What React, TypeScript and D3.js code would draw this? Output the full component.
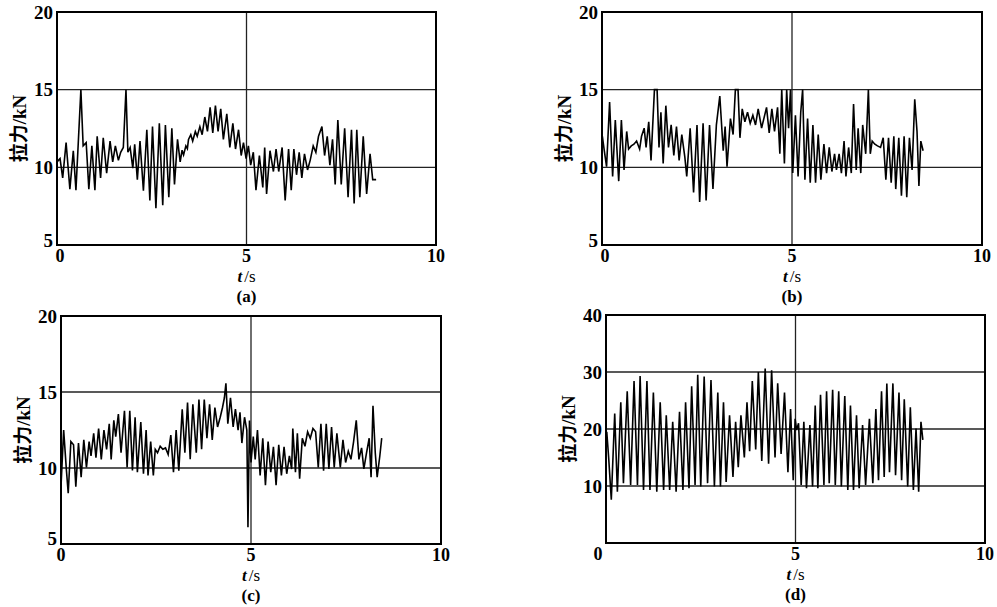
import React from 'react'
import * as d3 from 'd3'

// time (s), pull force (kN) — peaks and troughs
const seriesA: [number, number][] = [
  [0.00, 10.35], [0.08, 10.56], [0.15, 9.32], [0.24, 11.59], [0.34, 8.60], [0.43, 11.07], [0.50, 8.53],
  [0.63, 15.0], [0.69, 11.38], [0.77, 11.59], [0.84, 8.60], [0.92, 11.38], [1.00, 8.53], [1.06, 12.0],
  [1.15, 9.32], [1.22, 11.9], [1.31, 9.63], [1.40, 11.69], [1.47, 10.35], [1.54, 11.38], [1.62, 10.45],
  [1.68, 10.97], [1.75, 11.28], [1.82, 15.0], [1.87, 10.97], [1.93, 11.28], [2.00, 9.94], [2.05, 11.48],
  [2.12, 9.21], [2.19, 11.69], [2.28, 8.49], [2.37, 12.42], [2.45, 7.87], [2.52, 12.62], [2.61, 7.36],
  [2.70, 12.83], [2.79, 7.56], [2.86, 12.73], [2.95, 8.08], [3.03, 12.52], [3.10, 8.90], [3.18, 11.80],
  [3.25, 10.35], [3.30, 11.10], [3.34, 10.80], [3.40, 11.38], [3.44, 11.20], [3.47, 11.80], [3.53, 12.10],
  [3.58, 11.69], [3.65, 12.31], [3.70, 12.0], [3.77, 12.62], [3.83, 12.10], [3.90, 13.24], [3.97, 12.31],
  [4.04, 13.86], [4.11, 12.21], [4.18, 13.97], [4.25, 12.31], [4.32, 13.76], [4.39, 11.80], [4.48, 13.45],
  [4.56, 11.28], [4.64, 12.83], [4.71, 11.18], [4.79, 12.42], [4.86, 10.76], [4.92, 11.59], [4.99, 10.56],
  [5.05, 11.38], [5.11, 10.14], [5.18, 10.97], [5.25, 8.53], [5.34, 10.76], [5.43, 8.70], [5.48, 11.28],
  [5.53, 8.29], [5.62, 11.07], [5.71, 9.73], [5.78, 11.18], [5.85, 9.73], [5.94, 11.28], [6.02, 7.87],
  [6.11, 11.18], [6.18, 8.53], [6.25, 11.18], [6.32, 9.52], [6.39, 10.97], [6.46, 9.32], [6.53, 10.87],
  [6.61, 9.83], [6.68, 10.45], [6.76, 11.38], [6.83, 10.97], [6.90, 12.0], [6.99, 12.62], [7.06, 10.76],
  [7.13, 12.0], [7.20, 10.14], [7.27, 11.80], [7.34, 8.90], [7.41, 13.04], [7.50, 8.90], [7.59, 12.52],
  [7.68, 8.08], [7.77, 12.42], [7.84, 7.67], [7.91, 12.42], [7.99, 8.08], [8.08, 12.0], [8.17, 8.29],
  [8.26, 10.87], [8.33, 9.21], [8.42, 9.21],
]

const seriesB: [number, number][] = [
  [0.01, 12.0], [0.06, 11.07], [0.12, 10.04], [0.20, 14.21], [0.28, 9.42], [0.35, 13.04], [0.44, 9.11],
  [0.51, 13.04], [0.58, 9.83], [0.65, 12.31], [0.70, 11.18], [0.77, 11.38], [0.84, 11.49], [0.91, 11.69],
  [0.99, 11.18], [1.04, 12.0], [1.11, 12.52], [1.16, 11.28], [1.23, 12.93], [1.29, 10.45], [1.38, 15.0],
  [1.45, 15.0], [1.50, 11.28], [1.55, 13.55], [1.61, 10.25], [1.68, 13.97], [1.75, 11.28], [1.82, 12.73],
  [1.89, 10.76], [1.96, 12.62], [2.03, 10.45], [2.10, 12.11], [2.18, 10.66], [2.23, 9.42], [2.32, 12.52],
  [2.41, 8.39], [2.50, 12.73], [2.57, 7.77], [2.66, 12.83], [2.74, 7.87], [2.83, 12.73], [2.92, 8.60],
  [3.01, 12.73], [3.10, 14.59], [3.19, 11.07], [3.24, 12.62], [3.29, 10.04], [3.38, 13.14], [3.45, 12.11],
  [3.51, 15.0], [3.58, 15.0], [3.63, 11.90], [3.69, 13.76], [3.76, 12.93], [3.83, 13.55], [3.90, 12.83],
  [3.97, 13.35], [4.04, 12.73], [4.11, 13.76], [4.20, 12.52], [4.33, 13.86], [4.40, 12.21], [4.47, 13.76],
  [4.54, 12.31], [4.62, 13.86], [4.68, 10.87], [4.73, 15.0], [4.80, 10.25], [4.86, 15.0], [4.91, 12.52],
  [4.96, 15.0], [5.02, 9.63], [5.09, 13.35], [5.16, 9.42], [5.23, 13.55], [5.28, 15.0], [5.34, 9.21],
  [5.41, 13.14], [5.48, 9.01], [5.55, 12.73], [5.62, 9.01], [5.69, 12.11], [5.76, 9.21], [5.84, 11.49],
  [5.91, 9.63], [5.98, 11.28], [6.05, 9.73], [6.12, 10.87], [6.17, 9.83], [6.24, 10.87], [6.30, 9.63],
  [6.37, 11.69], [6.42, 9.42], [6.49, 11.28], [6.56, 9.63], [6.62, 14.07], [6.69, 9.83], [6.74, 12.52],
  [6.81, 9.63], [6.86, 12.73], [6.94, 10.87], [7.01, 15.0], [7.06, 10.87], [7.11, 11.69], [7.18, 11.49],
  [7.25, 11.38], [7.33, 11.28], [7.40, 11.90], [7.47, 9.21], [7.54, 11.90], [7.61, 9.01], [7.68, 12.0],
  [7.73, 8.60], [7.81, 11.90], [7.88, 8.18], [7.95, 12.0], [8.02, 8.08], [8.09, 11.90], [8.16, 9.83],
  [8.23, 14.38], [8.29, 12.31], [8.34, 8.80], [8.39, 11.69], [8.45, 11.07],
]

const seriesC: [number, number][] = [
  [0.00, 8.77], [0.07, 12.49], [0.14, 9.94], [0.19, 8.34], [0.26, 11.74], [0.33, 11.53], [0.39, 8.77],
  [0.46, 11.64], [0.53, 9.40], [0.60, 11.85], [0.67, 10.04], [0.74, 11.74], [0.79, 10.79], [0.86, 12.28],
  [0.92, 10.68], [0.99, 12.60], [1.06, 10.57], [1.13, 12.49], [1.20, 11.23], [1.27, 12.91], [1.32, 10.57],
  [1.39, 13.13], [1.44, 12.06], [1.51, 13.55], [1.58, 11.0], [1.67, 13.77], [1.74, 10.04], [1.81, 13.77],
  [1.88, 9.83], [1.95, 13.34], [2.01, 9.72], [2.10, 13.02], [2.17, 9.62], [2.24, 12.49], [2.29, 9.51],
  [2.36, 11.74], [2.43, 9.51], [2.48, 11.23], [2.54, 11.0], [2.61, 11.43], [2.68, 11.23], [2.75, 11.32],
  [2.82, 10.89], [2.89, 12.17], [2.96, 9.72], [3.03, 12.49], [3.10, 9.83], [3.19, 13.87], [3.26, 11.0],
  [3.33, 14.30], [3.40, 10.57], [3.47, 14.19], [3.56, 11.0], [3.63, 14.51], [3.70, 11.23], [3.77, 14.51],
  [3.84, 11.96], [3.91, 14.19], [3.98, 11.85], [4.05, 13.98], [4.12, 12.70], [4.19, 13.34], [4.25, 13.98],
  [4.30, 14.62], [4.34, 15.57], [4.39, 12.91], [4.46, 14.62], [4.53, 12.70], [4.59, 13.87], [4.66, 12.49],
  [4.71, 13.66], [4.76, 11.64], [4.83, 13.34], [4.89, 12.49], [4.92, 6.10], [4.96, 13.13], [5.00, 10.36],
  [5.06, 12.06], [5.11, 10.57], [5.17, 12.49], [5.24, 9.51], [5.31, 11.96], [5.38, 8.87], [5.45, 11.74],
  [5.52, 9.72], [5.59, 11.40], [5.66, 8.87], [5.73, 11.53], [5.80, 9.51], [5.87, 11.40], [5.94, 9.62],
  [6.01, 10.79], [6.07, 9.93], [6.10, 12.60], [6.17, 9.72], [6.22, 12.28], [6.28, 9.30], [6.35, 11.96],
  [6.42, 11.43], [6.49, 12.38], [6.56, 11.96], [6.63, 12.60], [6.70, 12.38], [6.77, 10.04], [6.84, 12.91],
  [6.91, 9.83], [6.98, 12.91], [7.05, 9.94], [7.12, 12.70], [7.19, 10.04], [7.26, 12.28], [7.35, 10.04],
  [7.42, 11.85], [7.49, 10.36], [7.56, 11.11], [7.63, 10.57], [7.70, 11.74], [7.77, 13.13], [7.84, 10.57],
  [7.91, 11.32], [7.97, 9.94], [8.04, 11.0], [8.11, 11.96], [8.16, 9.40], [8.21, 14.09], [8.27, 11.0],
  [8.32, 9.40], [8.39, 10.79], [8.44, 11.96],
]

const seriesD: [number, number][] = [
  [0.02, 19.5], [0.07, 15.0], [0.14, 7.6], [0.23, 22.7], [0.30, 9.0], [0.39, 24.7], [0.46, 10.5],
  [0.56, 26.6], [0.65, 10.2], [0.74, 28.4], [0.83, 10.2], [0.90, 29.3], [0.99, 9.3], [1.08, 28.4],
  [1.16, 9.3], [1.25, 26.4], [1.34, 9.0], [1.43, 24.7], [1.52, 9.3], [1.59, 22.4], [1.68, 9.3],
  [1.76, 21.25], [1.85, 9.0], [1.94, 23.0], [2.03, 9.3], [2.10, 24.7], [2.19, 9.6], [2.26, 27.5],
  [2.35, 10.2], [2.42, 29.5], [2.50, 9.9], [2.59, 29.2], [2.68, 10.5], [2.77, 28.6], [2.86, 9.9],
  [2.95, 26.4], [3.02, 9.9], [3.10, 24.7], [3.17, 10.7], [3.26, 22.4], [3.35, 11.6], [3.42, 21.25],
  [3.49, 13.3], [3.56, 22.4], [3.65, 15.0], [3.72, 24.7], [3.79, 16.1], [3.86, 28.4], [3.95, 16.4],
  [4.02, 30.0], [4.11, 14.4], [4.20, 30.6], [4.29, 13.9], [4.37, 30.3], [4.46, 15.0], [4.53, 28.0],
  [4.62, 15.6], [4.71, 26.4], [4.80, 12.4], [4.87, 23.5], [4.94, 11.0], [4.99, 21.8], [5.03, 19.8],
  [5.08, 21.0], [5.15, 10.2], [5.22, 21.25], [5.29, 9.6], [5.38, 20.7], [5.45, 9.9], [5.52, 24.1],
  [5.59, 9.6], [5.66, 26.0], [5.75, 10.2], [5.82, 26.6], [5.89, 10.5], [5.98, 26.9], [6.05, 10.2],
  [6.14, 26.6], [6.21, 9.9], [6.30, 25.8], [6.38, 9.3], [6.45, 24.1], [6.53, 9.3], [6.61, 22.4],
  [6.68, 9.6], [6.77, 20.7], [6.85, 10.2], [6.95, 21.8], [7.04, 10.5], [7.12, 23.5], [7.19, 11.0],
  [7.27, 26.6], [7.34, 11.6], [7.41, 28.0], [7.48, 12.4], [7.57, 28.0], [7.64, 11.9], [7.73, 26.4],
  [7.80, 11.0], [7.87, 25.2], [7.96, 9.9], [8.03, 23.8], [8.11, 9.3], [8.18, 20.1], [8.25, 9.0],
  [8.31, 21.25], [8.36, 18.1],
]

const xTicks = [0, 5, 10]
const ticksABC = [5, 10, 15, 20]
const ticksD = [10, 20, 30, 40]
const gridABC = [10, 15]
const gridD = [10, 20, 30]

const SERIF = '"Liberation Serif", "Times New Roman", "Noto Sans CJK SC", serif'

function Panel(props) {
  const { left, right, top, bottom, yDomain, yTicks, grid, data, tag, zeroShift, bottomTickShift } = props
  const x = d3.scaleLinear().domain([0, 10]).range([left, right])
  const y = d3.scaleLinear().domain(yDomain).range([bottom, top])
  const line = d3.line<[number, number]>().x((d) => x(d[0])).y((d) => y(d[1]))
  const cx = (left + right) / 2

  return (<g>
    {grid.map((g) => (
      <line key={'g' + g} x1={left} x2={right} y1={y(g)} y2={y(g)} stroke="#222" strokeWidth={1.3} />
    ))}
    <line x1={x(5)} x2={x(5)} y1={top} y2={bottom} stroke="#222" strokeWidth={1.3} />
    <path d={line(data) || ''} fill="none" stroke="#000" strokeWidth={1.6} strokeLinejoin="miter" />
    <rect x={left} y={top} width={right - left} height={bottom - top} fill="none" stroke="#000" strokeWidth={2} />

    {yTicks.map((t, i) => (
      <text key={'y' + t} x={left - 4} y={y(t) + (i === 0 ? bottomTickShift : 0)} dy="0.35em"
        textAnchor="end" fontFamily={SERIF} fontWeight="bold" fontSize={19}>{t}</text>
    ))}
    {xTicks.map((t) => (
      <text key={'x' + t} x={x(t) + (t === 0 ? zeroShift : 0)} y={bottom + 17} textAnchor="middle"
        fontFamily={SERIF} fontWeight="bold" fontSize={18}>{t}</text>
    ))}
    <text x={cx} y={bottom + 37} textAnchor="middle" fontFamily={SERIF} fontSize={17}>
      <tspan fontStyle="italic" fontWeight="bold">t</tspan><tspan dx={2}>/s</tspan>
    </text>
    <text x={cx} y={bottom + 57} textAnchor="middle" fontFamily={SERIF} fontWeight="bold" fontSize={17}>{tag}</text>
    <text transform={`translate(${left - 38},${(top + bottom) / 2}) rotate(-90)`} textAnchor="middle" dy="0.35em"
      fontFamily={SERIF} fontWeight="bold" fontSize={19}>拉力/kN</text>
  </g>)
}

export default function App() {
  return (
    <svg width={997} height={607} style={{ position: 'absolute', left: 0, top: 0, background: '#fff' }}>
      <rect width={997} height={607} fill="#fff" />
      <Panel left={57} right={436} top={12} bottom={245} yDomain={[5, 20]} yTicks={ticksABC} grid={gridABC}
        data={seriesA} tag="(a)" zeroShift={3} bottomTickShift={-5} />
      <Panel left={602} right={982} top={12} bottom={245} yDomain={[5, 20]} yTicks={ticksABC} grid={gridABC}
        data={seriesB} tag="(b)" zeroShift={3} bottomTickShift={-5} />
      <Panel left={61} right={441} top={316} bottom={544} yDomain={[5, 20]} yTicks={ticksABC} grid={gridABC}
        data={seriesC} tag="(c)" zeroShift={0} bottomTickShift={-6} />
      <Panel left={606} right={985} top={315} bottom={543} yDomain={[0, 40]} yTicks={ticksD} grid={gridD}
        data={seriesD} tag="(d)" zeroShift={-8} bottomTickShift={0} />
    </svg>
  )
}
